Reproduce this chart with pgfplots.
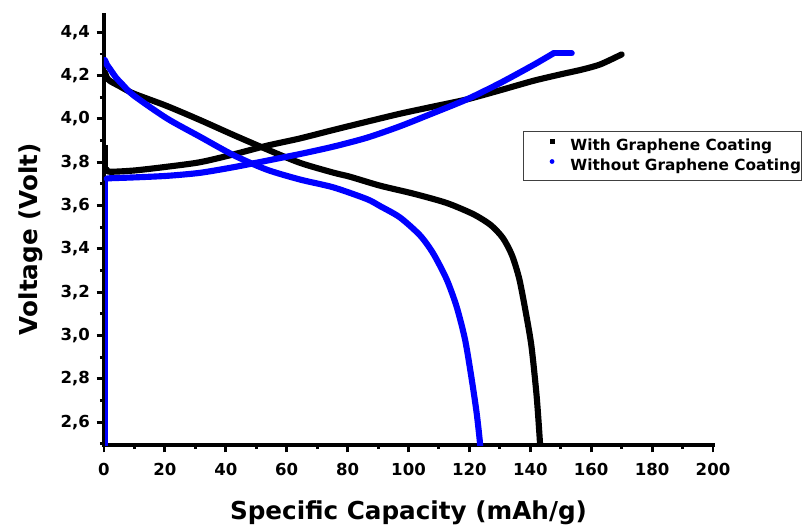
\documentclass[border=0pt]{standalone}
\usepackage{fontspec}
\setmainfont{DejaVu Sans}
\usepackage{pgfplots}
\pgfplotsset{compat=1.18}
\begin{document}
\begin{tikzpicture}
\begin{axis}[
  at={(0,0)}, anchor=south west,
  scale only axis, width=456.75pt, height=322.5pt,
  xmin=0, xmax=200, ymin=2.494, ymax=4.48,
  axis x line*=bottom, axis y line*=left,
  axis line style={-, line width=2.6pt, line cap=rect},
  xtick={0,20,...,200}, minor xtick={10,30,...,190},
  ytick={2.6,2.8,3.0,3.2,3.4,3.6,3.8,4.0,4.2,4.4},
  minor ytick={2.5,2.7,2.9,3.1,3.3,3.5,3.7,3.9,4.1,4.3},
  tick align=outside, major tick length=5.5pt, minor tick length=3pt,
  tick style={black, line width=2.2pt},
  /pgf/number format/assume math mode=true,
  tick label style={font=\bfseries\fontsize{12.4}{14}\selectfont},
  x tick label style={yshift=-5pt},
  y tick label style={xshift=-1.5pt, /pgf/number format/.cd, fixed, fixed zerofill, precision=1, use comma},
  xlabel={Specific Capacity (mAh/g)}, ylabel={Voltage (Volt)},
  label style={font=\bfseries\fontsize{18.5}{22}\selectfont},
  x label style={at={(axis description cs:0.5,-0.1744)}, anchor=base},
  y label style={at={(axis description cs:-0.109,0.479)}, anchor=base},
  legend style={at={(axis description cs:0.688,0.730)}, anchor=north west,
    draw=black!75, line width=0.6pt, inner xsep=0pt, inner ysep=3.5pt,
    font=\bfseries\fontsize{11.5}{13}\selectfont,
    nodes={inner sep=0pt, text height=11pt, text depth=4pt},
    row sep=0pt, column sep=0pt},
  legend cell align=left,
]
% with graphene coating
\addplot[black, line width=1.5pt, forget plot] coordinates {(0.9,3.88) (0.9,3.765)};
\addplot[black, line width=4.6pt, line join=round, line cap=round, smooth, tension=0.45, forget plot] coordinates {
 (1,3.765) (2,3.756) (10,3.762) (20.6,3.779) (31.5,3.80) (42.5,3.836) (53.4,3.876)
 (64.4,3.91) (75.3,3.949) (86.3,3.987) (97.2,4.024) (108.1,4.057) (119.1,4.09)
 (130,4.132) (141,4.176) (150,4.206) (157,4.228) (163,4.252) (170,4.298)};
\addplot[black, line width=4.6pt, line join=round, line cap=round, smooth, tension=0.45,
  legend image code/.code={\path[draw=none,fill=none] (0pt,0pt) rectangle (35.25pt,0pt);
    \fill[black,draw=none] (19.6pt,1.6pt) rectangle (23.4pt,5.4pt);}] coordinates {
 (0.3,4.215) (1,4.19) (2,4.175) (5,4.152) (9.6,4.118) (20.6,4.06) (31.5,3.995)
 (42.5,3.926) (53.4,3.86) (64.4,3.797) (75.3,3.752) (80.8,3.733) (90.6,3.692)
 (101.6,3.655) (112.5,3.612) (121.3,3.56) (127,3.51) (131,3.45) (134,3.37)
 (136.4,3.26) (138.6,3.10) (140.4,2.948) (142.1,2.717) (143.2,2.5) (143.3,2.45)};
% without graphene coating
\addplot[blue, line width=2.6pt, forget plot] coordinates {(0.9,2.45) (0.9,3.72)};
\addplot[blue, line width=4.6pt, line join=round, line cap=round, smooth, tension=0.45, forget plot] coordinates {
 (0.9,3.724) (2,3.726) (10,3.73) (20.6,3.737) (31.5,3.751) (42.5,3.777) (53.4,3.807)
 (64.4,3.838) (75.3,3.872) (86.3,3.913) (97.2,3.966) (108.1,4.027) (119.1,4.09)
 (130,4.165) (141,4.249) (147.6,4.303)};
\addplot[blue, line width=4.6pt, line cap=round, forget plot] coordinates {(147.6,4.303) (153.6,4.303)};
\addplot[blue, line width=4.6pt, line join=round, line cap=round, smooth, tension=0.45,
  legend image code/.code={\path[draw=none,fill=none] (0pt,0pt) rectangle (35.25pt,0pt);
    \fill[blue,draw=none] (21.5pt,3.5pt) circle (1.8pt);}] coordinates {
 (0.3,4.272) (1,4.25) (2,4.23) (4,4.19) (6,4.16) (9.6,4.11) (20.6,4.003) (31.5,3.918)
 (42.5,3.833) (53.4,3.766) (64.4,3.72) (75.3,3.684) (86.3,3.63) (90.6,3.598)
 (97.2,3.545) (103.8,3.462) (108.1,3.379) (112.5,3.26) (115.8,3.133) (118.6,2.979)
 (120.8,2.794) (122.4,2.64) (123.5,2.5) (123.6,2.45)};
\legend{With Graphene Coating, Without Graphene Coating}
\end{axis}
\pgfresetboundingbox
\path[use as bounding box] (-78pt,-60.75pt) rectangle (525pt,333.75pt);
\end{tikzpicture}
\end{document}
